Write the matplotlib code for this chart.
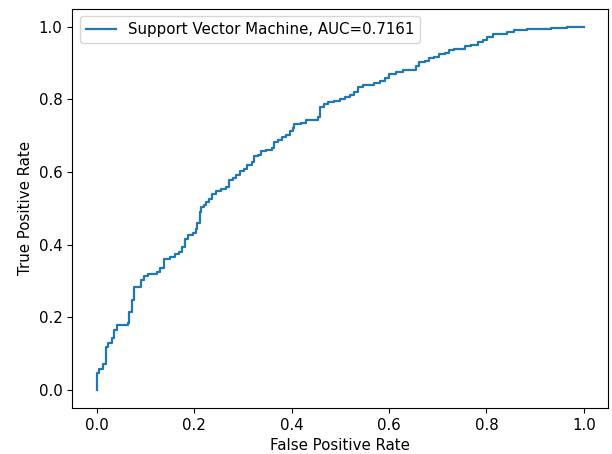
import matplotlib
matplotlib.use("Agg")
import matplotlib.pyplot as plt

# ROC operating points (false positive rate, true positive rate)
fpr = [0.000, 0.000, 0.005, 0.014, 0.019, 0.024, 0.031, 0.035, 0.041, 0.065,
       0.067, 0.072, 0.077, 0.091, 0.097, 0.106, 0.123, 0.130, 0.138, 0.150,
       0.160, 0.169, 0.176, 0.182, 0.188, 0.198, 0.203, 0.207, 0.212, 0.215,
       0.221, 0.225, 0.231, 0.236, 0.244, 0.256, 0.266, 0.272, 0.280, 0.287,
       0.294, 0.302, 0.309, 0.318, 0.322, 0.331, 0.338, 0.348, 0.359, 0.363,
       0.372, 0.381, 0.389, 0.396, 0.403, 0.406, 0.420, 0.430, 0.444, 0.454,
       0.458, 0.466, 0.475, 0.488, 0.499, 0.509, 0.519, 0.529, 0.536, 0.546,
       0.570, 0.581, 0.591, 0.601, 0.615, 0.628, 0.656, 0.662, 0.673, 0.683,
       0.693, 0.703, 0.714, 0.724, 0.734, 0.755, 0.768, 0.782, 0.792, 0.802,
       0.813, 0.843, 0.857, 0.884, 0.932, 0.966, 1.000]
tpr = [0.000, 0.046, 0.057, 0.071, 0.119, 0.130, 0.142, 0.165, 0.180, 0.185,
       0.215, 0.249, 0.284, 0.302, 0.313, 0.319, 0.325, 0.337, 0.362, 0.366,
       0.374, 0.380, 0.394, 0.417, 0.428, 0.432, 0.444, 0.460, 0.490, 0.504,
       0.510, 0.517, 0.527, 0.540, 0.549, 0.554, 0.560, 0.579, 0.584, 0.591,
       0.602, 0.609, 0.620, 0.627, 0.643, 0.648, 0.657, 0.661, 0.667, 0.682,
       0.689, 0.696, 0.702, 0.714, 0.722, 0.733, 0.734, 0.742, 0.744, 0.751,
       0.780, 0.788, 0.792, 0.797, 0.801, 0.806, 0.813, 0.820, 0.835, 0.840,
       0.844, 0.852, 0.859, 0.870, 0.876, 0.882, 0.891, 0.904, 0.907, 0.913,
       0.918, 0.925, 0.929, 0.935, 0.939, 0.946, 0.950, 0.957, 0.964, 0.973,
       0.980, 0.985, 0.990, 0.993, 0.997, 1.000, 1.000]

model_name = "Support Vector Machine"
auc_value = 0.7161

plt.rcParams["font.size"] = 10.8

fig = plt.figure(figsize=(6.12, 4.54), dpi=100)
ax = fig.add_axes([0.118, 0.101, 0.876, 0.880])

ax.plot(fpr, tpr, drawstyle="steps-post", linewidth=1.6,
        label=f"{model_name}, AUC={auc_value:.4f}")
ax.set_xlabel("False Positive Rate")
ax.set_ylabel("True Positive Rate")
ax.legend(loc="upper left")

fig.savefig("out.png", dpi=100)
